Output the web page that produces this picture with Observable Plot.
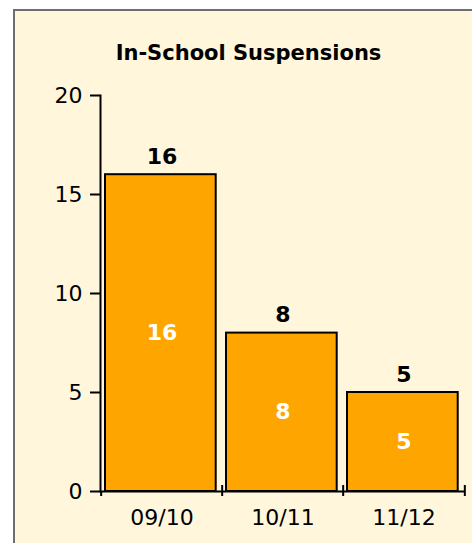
<!DOCTYPE html>
<html><head><meta charset="utf-8">
<script src="https://cdn.jsdelivr.net/npm/d3@7"></script>
<script src="https://cdn.jsdelivr.net/npm/@observablehq/plot@0.6"></script>
<style>
html,body{margin:0;padding:0;background:#fff;overflow:hidden;width:472px;height:543px;}
#frame{position:absolute;left:13px;top:9px;width:480px;height:560px;border:2px solid #6e6e6e;background:#fff6dc;}
#title{position:absolute;left:0;width:497px;top:43px;text-align:center;font:bold 21px "DejaVu Sans";line-height:21px;color:#000;}
#chart{position:absolute;left:0;top:0;}
</style></head><body>
<div id="frame"></div>
<div id="title">In-School Suspensions</div>
<div id="chart"></div>
<script>
const seasons = ["09/10", "10/11", "11/12"];
const suspensions = [16, 8, 5];
const yTicks = [0, 5, 10, 15, 20];
const data = seasons.map((s, i) => ({season: s, value: suspensions[i]}));
const W = 472, H = 543, mL = 100, mR = 7, mT = 95, mB = 52;
const step = (W - mL - mR) / seasons.length;
const font = "DejaVu Sans";
const chart = Plot.plot({
  width: W, height: H, marginLeft: mL, marginRight: mR, marginTop: mT, marginBottom: mB,
  style: {background: "transparent", fontFamily: font, fontSize: "22px", color: "black", overflow: "visible"},
  x: {type: "band", domain: seasons, padding: 0, label: null},
  y: {domain: [0, 20], label: null},
  marks: [
    Plot.barY(data, {x: "season", y: "value", fill: "#FFA500", stroke: "black", strokeWidth: 2, insetLeft: 4, insetRight: 6.3}),
    Plot.text(data, {x: "season", y: "value", text: d => String(d.value), dy: -18, fontWeight: "bold", fontSize: 22, fill: "black"}),
    Plot.text(data, {x: "season", y: d => d.value / 2, text: d => String(d.value), fontWeight: "bold", fontSize: 22, fill: "white"}),
    Plot.axisY(yTicks, {tickSize: 10, tickPadding: 8, fontSize: 22, label: null, strokeWidth: 2}),
    Plot.frame({anchor: "left", strokeWidth: 2}),
    Plot.ruleY([0], {strokeWidth: 2}),
    Plot.axisX({tickSize: 0, tickPadding: 18, fontSize: 22, label: null}),
    Plot.axisX(seasons.slice(0, 1), {tickFormat: () => "", tickSize: 5, dx: -step / 2, label: null, strokeWidth: 2}),
    Plot.axisX(seasons.slice(1), {tickFormat: () => "", tickSize: 11, dy: -6, dx: -step / 2, label: null, strokeWidth: 2}),
    Plot.axisX(seasons.slice(-1), {tickFormat: () => "", tickSize: 11, dy: -6, dx: step / 2, label: null, strokeWidth: 2})
  ]
});
document.getElementById("chart").appendChild(chart);
</script>
</body></html>
